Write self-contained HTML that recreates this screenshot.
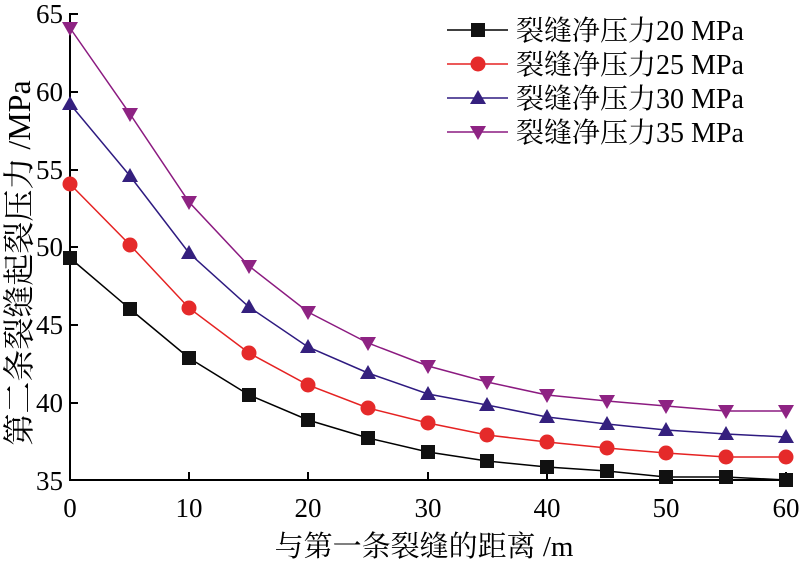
<!DOCTYPE html>
<html><head><meta charset="utf-8"><style>body{margin:0;background:#fff}svg{display:block}</style></head><body>
<svg width="800" height="566" viewBox="0 0 800 566" xmlns="http://www.w3.org/2000/svg" font-family="'Liberation Serif','Noto Serif CJK SC',serif" fill="#000">
<g stroke="#000" stroke-width="2" fill="none">
<line x1="70" y1="13" x2="70" y2="481"/>
<line x1="69" y1="480" x2="790" y2="480"/>
<path d="M70 14h8M70 92h8M70 170h8M70 247h8M70 325h8M70 403h8M70 480h8"/>
<path d="M189 480v-8M308 480v-8M428 480v-8M547 480v-8M666 480v-8M786 480v-8"/>
</g>
<g font-size="27" text-anchor="end">
<text x="63" y="23">65</text><text x="63" y="101">60</text><text x="63" y="179">55</text><text x="63" y="256">50</text><text x="63" y="334">45</text><text x="63" y="412">40</text><text x="63" y="490">35</text>
</g>
<g font-size="27" text-anchor="middle">
<text x="70" y="517">0</text><text x="189" y="517">10</text><text x="308" y="517">20</text><text x="428" y="517">30</text><text x="547" y="517">40</text><text x="666" y="517">50</text><text x="786" y="517">60</text>
</g>
<text x="424" y="556" font-size="29" text-anchor="middle">与第一条裂缝的距离 /m</text>
<text transform="translate(30,263) rotate(-90)" font-size="32" text-anchor="middle">第二条裂缝起裂压力 /MPa</text>
<g fill="none" stroke-width="1.5">
<polyline stroke="#000" points="70,258 130,309 189,358 249,395 308,420 368,438 428,452 487,461 547,467 607,471 666,477 726,477 786,480"/>
<polyline stroke="#e52222" points="70,184 130,245 189,308 249,353 308,385 368,408 428,423 487,435 547,442 607,448 666,453 726,457 786,457"/>
<polyline stroke="#2e1a80" points="70,104 130,176 189,253 249,307 308,347 368,373 428,394 487,405 547,417 607,424 666,430 726,434 786,437"/>
<polyline stroke="#8b1a80" points="70,28 130,114 189,202 249,266 308,312 368,343 428,366 487,382 547,395 607,401 666,406 726,411 786,411"/>
</g>
<g fill="#111"><path d="M63 251h14v14h-14zM123 302h14v14h-14zM182 351h14v14h-14zM242 388h14v14h-14zM301 413h14v14h-14zM361 431h14v14h-14zM421 445h14v14h-14zM480 454h14v14h-14zM540 460h14v14h-14zM600 464h14v14h-14zM659 470h14v14h-14zM719 470h14v14h-14zM779 473h14v14h-14z"/></g>
<g fill="#e52a2a"><circle cx="70" cy="184" r="7.5"/><circle cx="130" cy="245" r="7.5"/><circle cx="189" cy="308" r="7.5"/><circle cx="249" cy="353" r="7.5"/><circle cx="308" cy="385" r="7.5"/><circle cx="368" cy="408" r="7.5"/><circle cx="428" cy="423" r="7.5"/><circle cx="487" cy="435" r="7.5"/><circle cx="547" cy="442" r="7.5"/><circle cx="607" cy="448" r="7.5"/><circle cx="666" cy="453" r="7.5"/><circle cx="726" cy="457" r="7.5"/><circle cx="786" cy="457" r="7.5"/></g>
<g fill="#35207e">
<path d="M70 96l8 14h-16zM130 168l8 14h-16zM189 245l8 14h-16zM249 299l8 14h-16zM308 339l8 14h-16zM368 365l8 14h-16zM428 386l8 14h-16zM487 397l8 14h-16zM547 409l8 14h-16zM607 416l8 14h-16zM666 422l8 14h-16zM726 426l8 14h-16zM786 429l8 14h-16z"/>
</g>
<g fill="#8e2383">
<path d="M70 36l8-14h-16zM130 122l8-14h-16zM189 210l8-14h-16zM249 274l8-14h-16zM308 320l8-14h-16zM368 351l8-14h-16zM428 374l8-14h-16zM487 390l8-14h-16zM547 403l8-14h-16zM607 409l8-14h-16zM666 414l8-14h-16zM726 419l8-14h-16zM786 419l8-14h-16z"/>
</g>
<g stroke-width="1.5">
<line x1="447" y1="30" x2="508" y2="30" stroke="#000"/><rect x="471" y="23" width="14" height="14" fill="#111"/>
<line x1="447" y1="64" x2="508" y2="64" stroke="#e52222"/><circle cx="478" cy="64" r="7.5" fill="#e52a2a"/>
<line x1="447" y1="98" x2="508" y2="98" stroke="#2e1a80"/><path d="M478 90l8 14h-16z" fill="#35207e"/>
<line x1="447" y1="132" x2="508" y2="132" stroke="#8b1a80"/><path d="M478 140l8-14h-16z" fill="#8e2383"/>
</g>
<g font-size="28">
<text x="516" y="40">裂缝净压力20 MPa</text>
<text x="516" y="74">裂缝净压力25 MPa</text>
<text x="516" y="108">裂缝净压力30 MPa</text>
<text x="516" y="142">裂缝净压力35 MPa</text>
</g>
</svg>
</body></html>
